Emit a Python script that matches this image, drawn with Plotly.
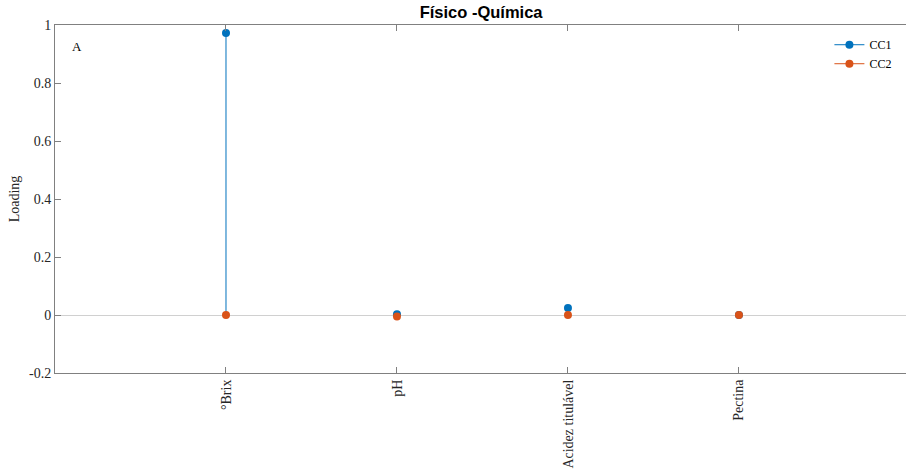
import plotly.graph_objects as go

categories = ["°Brix", "pH", "Acidez titulável", "Pectina"]
cc1 = [0.972, 0.003, 0.024, 0.0]
cc2 = [0.0, -0.005, 0.0, 0.0]
series_names = ["CC1", "CC2"]
colors = ["#0072BD", "#D95319"]
y_ticks = [-0.2, 0, 0.2, 0.4, 0.6, 0.8, 1]
y_ticktext = ["-0.2", "0", "0.2", "0.4", "0.6", "0.8", "1"]

xpos = list(range(1, len(categories) + 1))

fig = go.Figure()
serif = "Liberation Serif, Times New Roman, serif"

for name, vals, col in zip(series_names, [cc1, cc2], colors):
    sx, sy = [], []
    for x, v in zip(xpos, vals):
        sx += [x, x, None]
        sy += [0, v, None]
    fig.add_trace(go.Scatter(x=sx, y=sy, mode="lines", line=dict(color=col, width=1),
                             showlegend=False, hoverinfo="skip"))
for name, vals, col in zip(series_names, [cc1, cc2], colors):
    fig.add_trace(go.Scatter(x=xpos, y=vals, mode="markers", name=name,
                             marker=dict(color=col, size=8), showlegend=False))
for name, col in zip(series_names, colors):
    fig.add_trace(go.Scatter(x=[None], y=[None], mode="lines+markers", name=name,
                             line=dict(color=col, width=1), marker=dict(color=col, size=8)))

axis_col = "#808080"
fig.update_layout(
    width=906, height=473,
    margin=dict(l=55, r=0, t=25, b=100, autoexpand=False),
    paper_bgcolor="white", plot_bgcolor="white",
    title=dict(text="<b>Físico -Química</b>", x=0.531, xanchor="center", y=0.975, yanchor="middle",
               font=dict(family="Liberation Sans, Arial, sans-serif", size=16.5, color="black")),
    xaxis=dict(range=[0, 4.977], tickmode="array", tickvals=xpos, ticktext=categories,
               tickangle=-90, ticks="inside", ticklen=6, tickcolor=axis_col,
               showline=True, linecolor=axis_col, linewidth=1, mirror="ticks",
               showgrid=False, zeroline=False, automargin=False,
               tickfont=dict(family=serif, size=14, color="#262626")),
    yaxis=dict(range=[-0.2, 1], tickmode="array", tickvals=y_ticks, ticktext=y_ticktext,
               ticks="inside", ticklen=6, tickcolor=axis_col,
               showline=True, linecolor=axis_col, linewidth=1, mirror=False,
               showgrid=False, zeroline=True, zerolinecolor="#d0d0d0", zerolinewidth=1,
               automargin=False,
               tickfont=dict(family=serif, size=14, color="#262626"),
               title=dict(text="Loading", font=dict(family=serif, size=14, color="#262626"), standoff=6)),
    legend=dict(x=0.91, xanchor="left", y=0.985, yanchor="top", bgcolor="rgba(0,0,0,0)",
                font=dict(family=serif, size=12, color="black"), tracegroupgap=0),
    annotations=[dict(text="A", x=0.018, xref="paper", y=0.965, yref="paper", showarrow=False,
                      xanchor="left", font=dict(family=serif, size=13, color="black"))],
)

fig.write_html("out.html", config={"displayModeBar": False},
               post_script="document.body.style.margin='0';")
